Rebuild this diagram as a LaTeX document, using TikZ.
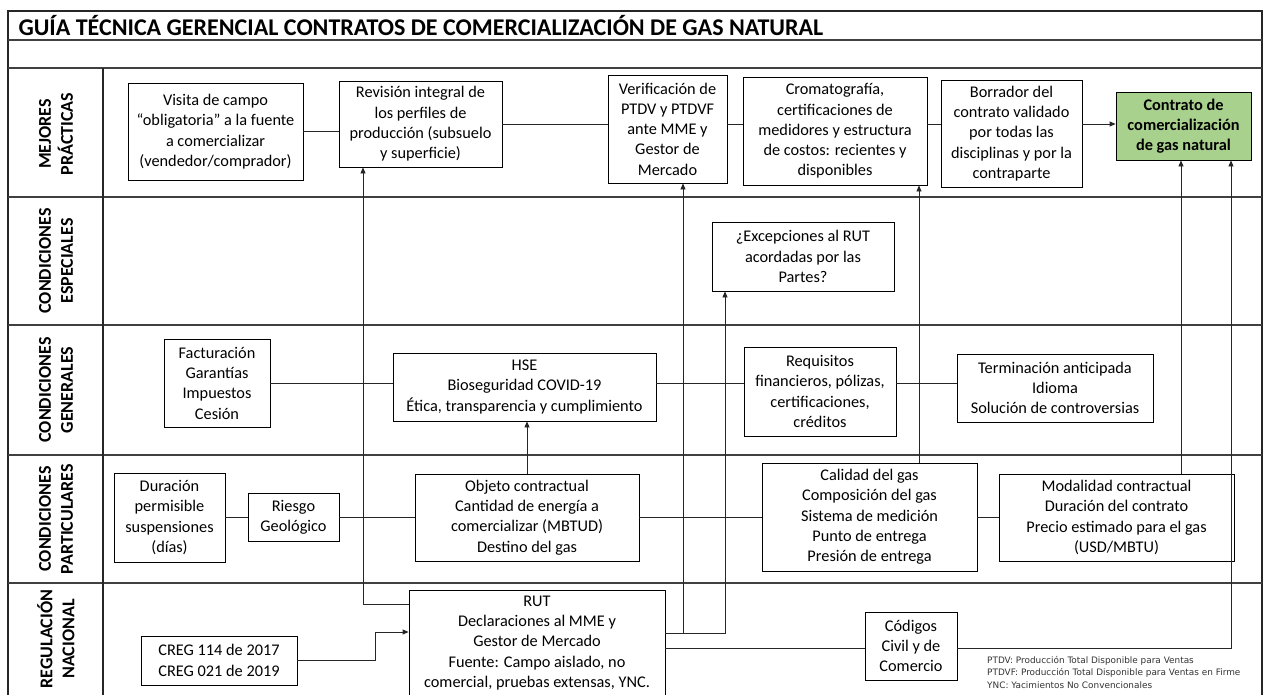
\documentclass[tikz,border=0pt]{standalone}
\usepackage{fontspec}
\setmainfont{Carlito}
\newfontfamily\legfont{DejaVu Sans}
\usetikzlibrary{arrows.meta}
\definecolor{conGreen}{RGB}{169,209,142}

\begin{document}
\begin{tikzpicture}
  [x=1pt,y=-1pt,
   box/.style={draw,line width=0.8pt,align=center,inner sep=2pt,font=\fontsize{16.3}{20.3}\selectfont},
   lane/.style={rotate=90,align=center,font=\bfseries\fontsize{18}{22}\selectfont},
   arr/.style={-{Triangle[length=6pt,width=5pt]}},
   line/.style={line width=0.8pt,black!85}]
\useasboundingbox (0,0) rectangle (1265,694);
\clip (0,0) rectangle (1265,694);

\draw[line width=1.6pt, black!85] (8,11) rectangle (1262,730);
\foreach \y in {40,68,197,325,455,583}
  \draw[line width=1.4pt, black!75] (8,\y) -- (1262,\y);
\draw[line width=1.6pt, black!85] (103,68) -- (103,730);

\node (title)[anchor=west, font=\bfseries\fontsize{24}{28}\selectfont] at (15,25.5) {GUÍA TÉCNICA GERENCIAL CONTRATOS DE COMERCIALIZACIÓN DE GAS NATURAL};

\node (l1)[lane] at (56,134) {MEJORES\\PRÁCTICAS};
\node (l2)[lane] at (56,261) {CONDICIONES\\ESPECIALES};
\node (l3)[lane] at (56,390) {CONDICIONES\\GENERALES};
\node (l4)[lane] at (56,519) {CONDICIONES\\PARTICULARES};
\node (l5)[lane] at (56,639) {REGULACIÓN\\NACIONAL};

\node (vis)[box, minimum width=175pt, minimum height=97pt] at (215.5,131.5) {Visita de campo\\“obligatoria” a la fuente\\a comercializar\\(vendedor/comprador)};
\node (rev)[box, minimum width=163pt, minimum height=86pt] at (420.5,124) {Revisión integral de\\los perfiles de\\producción (subsuelo\\y superficie)};
\node (ver)[box, minimum width=119pt, minimum height=108pt] at (667.5,129) {Verificación de\\PTDV y PTDVF\\ante MME y\\Gestor de\\Mercado};
\node (cro)[box, minimum width=184pt, minimum height=108pt] at (835,131) {Cromatografía,\\certificaciones de\\medidores y estructura\\de costos: recientes y\\disponibles};
\node (bor)[box, minimum width=141pt, minimum height=107pt] at (1011.5,133.5) {Borrador del\\contrato validado\\por todas las\\disciplinas y por la\\contraparte};
\node (con)[box, fill=conGreen, font=\bfseries\fontsize{16.3}{20.3}\selectfont, minimum width=135pt, minimum height=68pt] at (1183.5,126) {Contrato de\\comercialización\\de gas natural};

\node (exc)[box, minimum width=182pt, minimum height=69pt] at (803,256.5) {¿Excepciones al RUT\\acordadas por las\\Partes?};

\node (fac)[box, minimum width=106pt, minimum height=88pt] at (217,383) {Facturación\\Garantías\\Impuestos\\Cesión};
\node (hse)[box, minimum width=263pt, minimum height=68pt] at (524.5,387) {HSE\\Bioseguridad COVID-19\\Ética, transparencia y cumplimiento};
\node (req)[box, minimum width=152pt, minimum height=89pt] at (820,391.5) {Requisitos\\financieros, pólizas,\\certificaciones,\\créditos};
\node (ter)[box, minimum width=196pt, minimum height=68pt] at (1055,388) {Terminación anticipada\\Idioma\\Solución de controversias};

\node (dur)[box, minimum width=111pt, minimum height=89pt] at (169.5,517.5) {Duración\\permisible\\suspensiones\\(días)};
\node (rie)[box, minimum width=91pt, minimum height=48pt] at (293.5,517.5) {Riesgo\\Geológico};
\node (obj)[box, minimum width=224pt, minimum height=87pt] at (527,517.5) {Objeto contractual\\Cantidad de energía a\\comercializar (MBTUD)\\Destino del gas};
\node (cal)[box, minimum width=215pt, minimum height=108pt] at (869.5,517) {Calidad del gas\\Composición del gas\\Sistema de medición\\Punto de entrega\\Presión de entrega};
\node (mod)[box, minimum width=235pt, minimum height=87pt] at (1116.5,517.5) {Modalidad contractual\\Duración del contrato\\Precio estimado para el gas\\(USD/MBTU)};

\node (creg)[box, minimum width=156pt, minimum height=49pt] at (219,660.5) {CREG 114 de 2017\\CREG 021 de 2019};
\node (rut)[box, minimum width=256pt, minimum height=106pt] at (537,643) {RUT\\Declaraciones al MME y\\Gestor de Mercado\\Fuente: Campo aislado, no\\comercial, pruebas extensas, YNC.};
\node (cod)[box, minimum width=92pt, minimum height=68pt] at (911,646) {Códigos\\Civil y de\\Comercio};
\node (leg)[anchor=north west, align=left, inner sep=0pt, text=black!80, font=\legfont\fontsize{8.9}{12.5}\selectfont] at (987,656) {PTDV: Producción Total Disponible para Ventas\\PTDVF: Producción Total Disponible para Ventas en Firme\\YNC: Yacimientos No Convencionales};

\path[line]
  (vis.east) edge (vis.east -| rev.west)
  (rev.east) edge (rev.east -| ver.west)
  (ver.east |- rev.east) edge (cro.west |- rev.east)
  (cro.east |- rev.east) edge (bor.west |- rev.east)
  (bor.east |- rev.east) edge[arr] (con.west |- rev.east);
\path[line]
  (fac.east) edge (fac.east -| hse.west)
  (hse.east |- fac.east) edge (req.west |- fac.east)
  (req.east |- fac.east) edge (ter.west |- fac.east)
  (dur.east) edge (rie.west)
  (rie.east) edge (obj.west)
  (obj.east) edge (obj.east -| cal.west)
  (cal.east |- obj.east) edge (mod.west |- obj.east);

\coordinate (k1) at (363,604);
\coordinate (k2) at (683,633);
\coordinate (k3) at (725,633);
\coordinate (k4) at (919,0);
\coordinate (k5) at (1181,0);
\coordinate (k6) at (1231,648);
\coordinate (k7) at (375,632);

\draw[line,arr] (rut.west |- k1) -- (k1) -- (k1 |- rev.south);
\draw[line,arr] (rut.east |- k3) -- (k3) -- (k3 |- exc.south);
\draw[line,arr] (k2) -- (k2 |- ver.south);
\draw[line,arr] (k4 |- cal.north) -- (k4 |- cro.south);
\draw[line,arr] (k5 |- mod.north) -- (k5 |- con.south);
\draw[line,arr] (cod.east |- k6) -- (k6) -- (k6 |- con.south);
\draw[line,arr] (obj.north) -- (obj.north |- hse.south);
\draw[line,arr] (creg.east) -- (creg.east -| k7) -- (k7) -- (k7 -| rut.west);
\draw[line] (rut.east |- k6) -- (cod.west |- k6);
\end{tikzpicture}
\end{document}
